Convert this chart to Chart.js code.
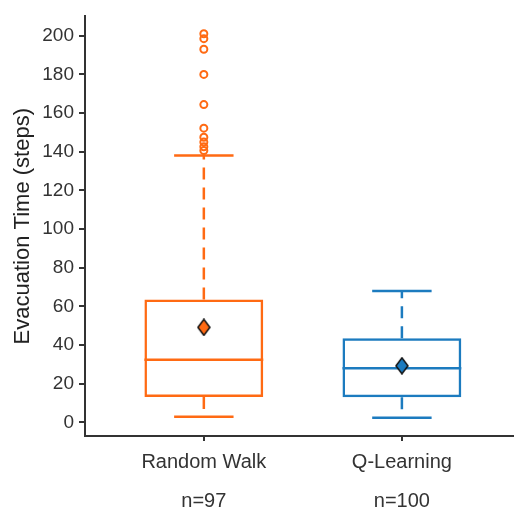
<!DOCTYPE html>
<html lang="en">
<head>
    <meta charset="UTF-8">
    <title>Evacuation Time</title>
    <script src="https://cdn.jsdelivr.net/npm/chart.js"></script>
    <style>
        html, body { margin: 0; padding: 0; background: #fff; overflow: hidden; }
    </style>
</head>
<body>
    <canvas id="boxChart" width="514" height="509"></canvas>

    <script>
        // values
        const categories = ['Random Walk', 'Q-Learning'];
        const counts = [97, 100];
        const colors = ['#FF6A13', '#1C7BBF'];
        const whiskerLow = [3, 2.4];
        const q1 = [13.2, 13];
        const medians = [32.4, 28.1];
        const q3 = [63.6, 43.5];
        const whiskerHigh = [138, 68];
        const means = [49.2, 29.3];
        const outliers = [
            [201, 198.5, 193, 180, 164.4, 152.2, 147.5, 145, 142.6, 140.6],
            []
        ];
        const yTicks = [0, 20, 40, 60, 80, 100, 120, 140, 160, 180, 200];

        const ink = '#333333';

        // diamond marker for the mean
        function diamond(fill) {
            const c = document.createElement('canvas');
            c.width = 14; c.height = 18;
            const g = c.getContext('2d');
            g.beginPath();
            g.moveTo(7, 1); g.lineTo(13, 9); g.lineTo(7, 17); g.lineTo(1, 9); g.closePath();
            g.fillStyle = fill; g.fill();
            g.lineWidth = 1.5; g.strokeStyle = '#111'; g.stroke();
            return c;
        }

        // whiskers, caps and medians drawn through the chart's scales
        const boxParts = {
            id: 'boxParts',
            beforeDatasetsDraw(chart) {
                const ctx = chart.ctx, xs = chart.scales.x, ys = chart.scales.y;
                categories.forEach((cat, i) => {
                    const xc = xs.getPixelForValue(i + 1);
                    ctx.save();
                    ctx.strokeStyle = colors[i];
                    ctx.lineWidth = 2.5;
                    // dashed whiskers
                    ctx.setLineDash([12, 8]);
                    ctx.beginPath();
                    ctx.moveTo(xc, ys.getPixelForValue(q3[i]));
                    ctx.lineTo(xc, ys.getPixelForValue(whiskerHigh[i]));
                    ctx.moveTo(xc, ys.getPixelForValue(q1[i]));
                    ctx.lineTo(xc, ys.getPixelForValue(whiskerLow[i]));
                    ctx.stroke();
                    ctx.setLineDash([]);
                    // caps
                    ctx.beginPath();
                    [whiskerHigh[i], whiskerLow[i]].forEach(v => {
                        const y = ys.getPixelForValue(v);
                        ctx.moveTo(xs.getPixelForValue(i + 1 - 0.15), y);
                        ctx.lineTo(xs.getPixelForValue(i + 1 + 0.15), y);
                    });
                    // median
                    const ym = ys.getPixelForValue(medians[i]);
                    ctx.moveTo(xs.getPixelForValue(i + 1 - 0.3), ym);
                    ctx.lineTo(xs.getPixelForValue(i + 1 + 0.3), ym);
                    ctx.stroke();
                    ctx.restore();
                });
            }
        };

        const outlierPoints = [];
        outliers.forEach((list, i) => list.forEach(v => outlierPoints.push({ x: i + 1, y: v })));

        const ctx = document.getElementById('boxChart').getContext('2d');
        const boxChart = new Chart(ctx, {
            type: 'bar',
            data: {
                datasets: [{
                    type: 'line',
                    label: 'mean',
                    data: means.map((m, i) => ({ x: i + 1, y: m })),
                    showLine: false,
                    pointStyle: colors.map(c => diamond(c)),
                    pointRadius: 8,
                    order: 0
                }, {
                    type: 'line',
                    label: 'outliers',
                    data: outlierPoints,
                    showLine: false,
                    pointStyle: 'circle',
                    pointRadius: 3.5,
                    pointBorderWidth: 2,
                    pointBackgroundColor: 'rgba(0,0,0,0)',
                    pointBorderColor: colors[0],
                    order: 1
                }, {
                    label: 'box',
                    data: q1.map((v, i) => ({ x: i + 1, y: [v, q3[i]] })),
                    backgroundColor: 'rgba(0,0,0,0)',
                    borderColor: colors,
                    borderWidth: 2.5,
                    borderSkipped: false,
                    barPercentage: 0.6,
                    categoryPercentage: 1,
                    order: 2
                }]
            },
            options: {
                responsive: false,
                animation: false,
                devicePixelRatio: 1,
                layout: { autoPadding: false, padding: { left: 0, right: 0, top: 14, bottom: 0 } },
                plugins: { legend: { display: false }, tooltip: { enabled: false } },
                scales: {
                    x: {
                        type: 'linear',
                        min: 0.4,
                        max: 2.566,
                        offset: false,
                        afterBuildTicks: s => { s.ticks = categories.map((c, i) => ({ value: i + 1 })); },
                        afterFit: s => { s.height = 73; s.paddingRight = 0; s.paddingLeft = 0; },
                        border: { display: true, color: ink, width: 2 },
                        grid: { offset: false, drawOnChartArea: false, drawTicks: true, tickLength: 5, color: ink, lineWidth: 2 },
                        ticks: {
                            autoSkip: false,
                            maxRotation: 0,
                            padding: 1.5,
                            color: '#333',
                            font: { family: 'Liberation Sans, Arial, sans-serif', size: 20, lineHeight: '39px' },
                            callback: v => [categories[v - 1], 'n=' + counts[v - 1]]
                        }
                    },
                    y: {
                        min: -7,
                        max: 210,
                        afterBuildTicks: s => { s.ticks = yTicks.map(v => ({ value: v })); },
                        afterFit: s => { s.width = 85; },
                        border: { display: true, color: ink, width: 2 },
                        grid: { drawOnChartArea: false, drawTicks: true, tickLength: 6, color: ink, lineWidth: 2 },
                        ticks: {
                            padding: 5,
                            color: '#333',
                            font: { family: 'Liberation Sans, Arial, sans-serif', size: 19 }
                        },
                        title: {
                            display: true,
                            text: 'Evacuation Time (steps)',
                            color: '#222',
                            padding: { top: 10, bottom: 0 },
                            font: { family: 'Liberation Sans, Arial, sans-serif', size: 22 }
                        }
                    }
                }
            },
            plugins: [boxParts]
        });
    </script>
</body>
</html>
